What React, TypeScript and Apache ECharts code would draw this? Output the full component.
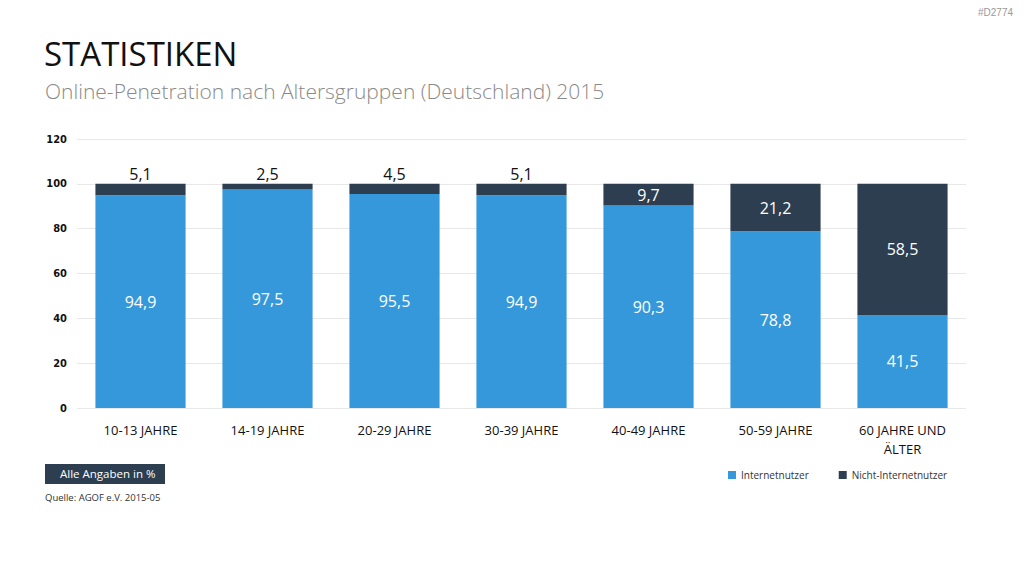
import React, { useEffect, useRef } from "react";
import * as echarts from "echarts";

const categories = ["10-13 JAHRE", "14-19 JAHRE", "20-29 JAHRE", "30-39 JAHRE", "40-49 JAHRE", "50-59 JAHRE", "60 JAHRE UND\nÄLTER"];
const internetnutzer = [94.9, 97.5, 95.5, 94.9, 90.3, 78.8, 41.5];
const nichtInternetnutzer = [5.1, 2.5, 4.5, 5.1, 9.7, 21.2, 58.5];
const yTicks = { min: 0, max: 120, interval: 20 };

const BLUE = "#3498db";
const DARK = "#2c3e50";
const FONT = "'Open Sans', 'Noto Sans', sans-serif";

const fmt = (v: number) => v.toFixed(1).replace(".", ",");

export default function App() {
  const ref = useRef<HTMLDivElement>(null);
  useEffect(() => {
    document.body.style.margin = "0";
    const chart = echarts.init(ref.current!, null, { renderer: "svg" });
    chart.setOption({
      animation: false,
      backgroundColor: "#ffffff",
      textStyle: { fontFamily: FONT },
      grid: { left: 77, right: 58, top: 139, bottom: 168 },
      legend: {
        left: 723,
        top: 465,
        itemWidth: 8,
        itemHeight: 8,
        itemGap: 30,
        icon: "rect",
        textStyle: { fontSize: 10, color: "#333", fontFamily: FONT },
        data: ["Internetnutzer", "Nicht-Internetnutzer"],
      },
      xAxis: {
        type: "category",
        data: categories,
        axisLine: { show: false },
        axisTick: { show: false },
        axisLabel: { color: "#111", fontSize: 13, margin: 12, lineHeight: 19, fontFamily: FONT, interval: 0 },
      },
      yAxis: {
        type: "value",
        min: yTicks.min,
        max: yTicks.max,
        interval: yTicks.interval,
        axisLine: { show: false },
        axisTick: { show: false },
        axisLabel: { color: "#111", fontSize: 11, fontWeight: "bold", margin: 10, fontFamily: "'DejaVu Sans Condensed', 'DejaVu Sans', sans-serif" },
        splitLine: { lineStyle: { color: "#e8e8e8", width: 1 } },
      },
      series: [
        {
          name: "Internetnutzer",
          type: "bar",
          stack: "total",
          barCategoryGap: "29%",
          itemStyle: { color: BLUE },
          label: {
            show: true,
            position: "inside",
            color: "#fff",
            fontSize: 16,
            fontFamily: FONT,
            formatter: (p: any) => fmt(p.value),
          },
          data: internetnutzer,
        },
        {
          name: "Nicht-Internetnutzer",
          type: "bar",
          stack: "total",
          barCategoryGap: "29%",
          itemStyle: { color: DARK },
          data: nichtInternetnutzer.map((v) =>
            v < 7
              ? { value: v, label: { show: true, position: "top", distance: 2, color: "#111", fontSize: 16, fontFamily: FONT, formatter: (p: any) => fmt(p.value) } }
              : { value: v, label: { show: true, position: "inside", color: "#fff", fontSize: 16, fontFamily: FONT, formatter: (p: any) => fmt(p.value) } }
          ),
        },
      ],
      graphic: [
        { type: "text", left: 978, top: 7, style: { text: "#D2774", fontSize: 10, fill: "#999", fontFamily: "'Liberation Sans', sans-serif" } },
        { type: "text", left: 44, top: 37, style: { text: "STATISTIKEN", fontSize: 33, fill: "#111", fontFamily: FONT } },
        { type: "text", left: 45, top: 80, style: { text: "Online-Penetration nach Altersgruppen (Deutschland) 2015", fontSize: 21, fill: "#8a8a8a", fontFamily: FONT, fontWeight: 300 } },
        { type: "rect", shape: { x: 45, y: 464, width: 120, height: 20 }, style: { fill: DARK } },
        { type: "text", left: 60, top: 467, style: { text: "Alle Angaben in %", fontSize: 11.5, fill: "#fff", fontFamily: FONT } },
        { type: "text", left: 45, top: 492, style: { text: "Quelle: AGOF e.V. 2015-05", fontSize: 9.5, fill: "#333", fontFamily: FONT } },
      ],
    });
    return () => chart.dispose();
  }, []);
  return <div ref={ref} style={{ width: 1024, height: 576 }} />;
}
